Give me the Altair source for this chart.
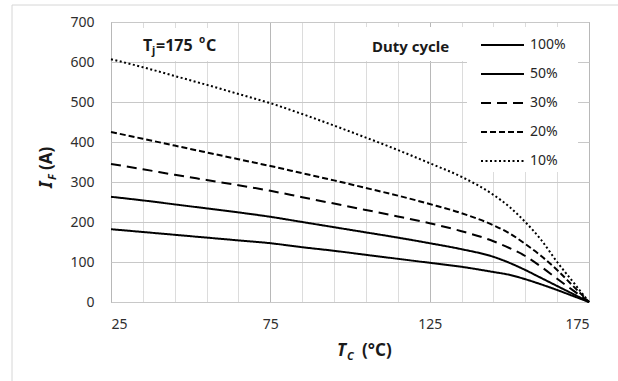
import altair as alt
import pandas as pd

temps = [25, 35, 45, 55, 65, 75, 85, 95, 105, 115, 125, 135, 145, 150, 155, 160, 165, 170, 175]
duty_labels = ["100%", "50%", "30%", "20%", "10%"]
i_100 = [182, 175, 168, 161, 154, 147, 137, 128, 118, 108, 98, 88, 75, 68, 57, 44, 30, 15, 0]
i_50 = [263, 254, 244, 234, 224, 213, 200, 187, 174, 161, 147, 132, 113, 98, 80, 60, 40, 20, 0]
i_30 = [345, 332, 318, 305, 292, 278, 262, 246, 230, 214, 197, 177, 152, 135, 115, 88, 58, 29, 0]
i_20 = [425, 408, 391, 374, 357, 340, 322, 304, 285, 266, 245, 222, 192, 172, 145, 115, 80, 40, 0]
i_10 = [607, 587, 565, 543, 520, 497, 470, 441, 411, 380, 347, 313, 268, 238, 200, 155, 100, 50, 0]
x_ticks = [25, 35, 45, 55, 65, 75, 85, 95, 105, 115, 125, 135, 145, 155, 165, 175]
y_ticks = [0, 100, 200, 300, 400, 500, 600, 700]

series = [i_100, i_50, i_30, i_20, i_10]
rows = []
for lab, vals in zip(duty_labels, series):
    for t, v in zip(temps, vals):
        rows.append({"Tc": t, "IF": v, "Duty": lab})
df = pd.DataFrame(rows)

W, H = 478, 280
OX, OY = 111, 22
FONT = "Noto Sans"
one = pd.DataFrame({"k": [0]})


def txt(s, x, y, size, bold=True, italic=False, angle=0, align="left", color="#1a1a1a"):
    return alt.Chart(one).mark_text(
        text=s, font=FONT, fontSize=size, fontWeight="bold" if bold else "normal",
        fontStyle="italic" if italic else "normal", angle=angle, align=align,
        baseline="alphabetic", color=color,
    ).encode(x=alt.value(x - OX), y=alt.value(y - OY))


def box(x1, y1, x2, y2):
    return alt.Chart(one).mark_rect(color="white").encode(
        x=alt.value(x1 - OX), x2=alt.value(x2 - OX),
        y=alt.value(y1 - OY), y2=alt.value(y2 - OY))


def rule(x1, y1, x2, y2, color="#d6d6d6"):
    return alt.Chart(one).mark_rule(color=color, strokeWidth=1).encode(
        x=alt.value(x1 - OX), x2=alt.value(x2 - OX),
        y=alt.value(y1 - OY), y2=alt.value(y2 - OY))


lines = alt.Chart(df).mark_line(color="black", strokeWidth=2, interpolate="monotone").encode(
    x=alt.X("Tc:Q", scale=alt.Scale(domain=[25, 175], nice=False, zero=False),
            axis=alt.Axis(values=x_ticks, title=None, ticks=False, tickSize=0, domain=False,
                          labelExpr="(datum.value - 25) % 50 == 0 ? datum.label : ''",
                          labelFont=FONT, labelFontSize=14, labelColor="#2e2e2e", labelPadding=15,
                          gridColor={"condition": {"test": "(datum.value - 25) % 50 == 0", "value": "#b8b8b8"},
                                     "value": "#dcdcdc"},
                          gridWidth=1)),
    y=alt.Y("IF:Q", scale=alt.Scale(domain=[0, 700], nice=False),
            axis=alt.Axis(values=y_ticks, title=None, ticks=False, tickSize=0, domain=False,
                          labelFont=FONT, labelFontSize=14, labelColor="#2e2e2e", labelPadding=17,
                          gridColor="#c8c8c8", gridWidth=1)),
    strokeDash=alt.StrokeDash(
        "Duty:N",
        scale=alt.Scale(domain=duty_labels, range=[[1, 0], [1, 0], [10, 6], [6, 3], [2, 2.5]]),
        legend=alt.Legend(orient="none", legendX=383.5, legendY=15, title=None,
                          symbolType="M-3.07,0H3.07", symbolSize=196, symbolStrokeWidth=2,
                          symbolStrokeColor="black", labelOffset=19.5, labelFont=FONT,
                          labelFontSize=14, labelColor="#262626", rowPadding=14, padding=0),
    ),
    detail="Duty:N",
    order="Tc:Q",
)

layers = [
    rule(12, 5, 12, 381),
    rule(12, 5, 618, 5),
    box(136, 28, 232, 61),
    box(362, 27, 467, 61),
    box(467, 27, 578, 172),
    lines,
    # Tj annotation
    txt("T", 143, 51, 16),
    txt("j", 152, 54, 11),
    txt("=175", 156, 51, 16),
    txt("o", 199, 43, 10),
    txt("C", 206, 51, 16),
    # Duty cycle
    txt("Duty cycle", 372, 52, 15),
    # x title
    txt("T", 337, 356, 17, italic=True),
    txt("C", 347, 360, 11, italic=True),
    txt("(°C)", 362, 356, 17),
    # y title
    txt("I", 52, 188, 17, italic=True, angle=270),
    txt("F", 56, 180, 11, italic=True, angle=270),
    txt("(A)", 52, 170, 17, angle=270),
]

chart = alt.layer(*layers).properties(
    width=W, height=H, autosize="none",
    padding={"left": OX, "top": OY, "right": 618 - OX - W, "bottom": 381 - OY - H},
    background="white",
).configure_view(stroke="#9a9a9a", strokeWidth=1)

chart.save("out.html", embed_options={"renderer": "svg", "actions": False})
